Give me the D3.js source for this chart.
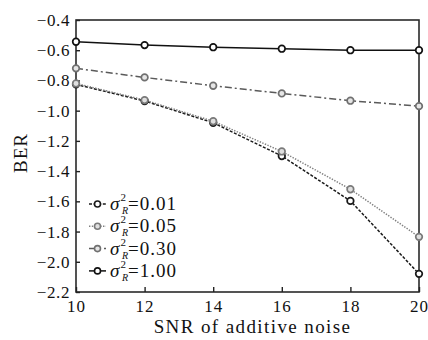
<!DOCTYPE html>
<html>
<head>
<meta charset="utf-8">
<script src="https://cdn.jsdelivr.net/npm/d3@7"></script>
<style>
  body { margin: 0; background: #fff; }
  svg text { font-family: "Liberation Serif", "DejaVu Serif", serif !important; fill: #111; }
</style>
</head>
<body>
<svg id="chart" width="428" height="340"></svg>
<script>
// data
var snr = [10, 12, 14, 16, 18, 20];
var ber001 = [-0.826, -0.936, -1.08, -1.30, -1.597, -2.08];
var ber005 = [-0.82, -0.93, -1.07, -1.27, -1.52, -1.835];
var ber030 = [-0.72, -0.78, -0.835, -0.886, -0.934, -0.97];
var ber100 = [-0.544, -0.566, -0.58, -0.59, -0.60, -0.60];
var labels = ["0.01", "0.05", "0.30", "1.00"];
var xTicks = [10, 12, 14, 16, 18, 20];
var yTicks = [-0.4, -0.6, -0.8, -1.0, -1.2, -1.4, -1.6, -1.8, -2.0, -2.2];

var series = [
  { name: labels[0], values: ber001, stroke: "#1a1a1a", dash: "3,1.6", mark: "#1a1a1a", fill: "#fff" },
  { name: labels[1], values: ber005, stroke: "#808080", dash: "1.4,1.4", mark: "#7a7a7a", fill: "#e0e0e0" },
  { name: labels[2], values: ber030, stroke: "#5a5a5a", dash: "7,3,2,3", mark: "#707070", fill: "#e6e6e6" },
  { name: labels[3], values: ber100, stroke: "#111", dash: null, mark: "#111", fill: "#fff" }
];

var svg = d3.select("#chart");
var pLeft = 76, pRight = 419, pTop = 20, pBottom = 292;

var x = d3.scaleLinear().domain([10, 20]).range([pLeft, pRight]);
var y = d3.scaleLinear().domain([-2.2, -0.4]).range([pBottom, pTop]);

// frame
svg.append("rect").attr("x", pLeft).attr("y", pTop)
  .attr("width", pRight - pLeft).attr("height", pBottom - pTop)
  .attr("fill", "none").attr("stroke", "#2a2a2a").attr("stroke-width", 1.6);

// x axis
var xAxis = d3.axisBottom(x).tickValues(xTicks).tickSize(-5).tickPadding(8).tickFormat(d3.format("d"));
var gx = svg.append("g").attr("transform", "translate(0," + pBottom + ")").call(xAxis);
gx.select(".domain").remove();
gx.selectAll("line").attr("stroke", "#222").attr("stroke-width", 1.4);
gx.selectAll("text").style("font-size", "17px").style("letter-spacing", "1px");

// y axis
var yAxis = d3.axisLeft(y).tickValues(yTicks).tickSize(-4).tickPadding(6).tickFormat(d3.format(".1f"));
var gy = svg.append("g").attr("transform", "translate(" + pLeft + ",0)").call(yAxis);
gy.select(".domain").remove();
gy.selectAll("line").attr("stroke", "#222").attr("stroke-width", 1.4);
gy.selectAll("text").style("font-size", "17px").style("letter-spacing", "0.6px");

// axis titles
svg.append("text").attr("x", (pLeft + pRight) / 2 + 5).attr("y", 333)
  .attr("text-anchor", "middle").style("font-size", "19px").style("letter-spacing", "1.4px")
  .text("SNR of additive noise");
svg.append("text").attr("transform", "translate(27,153) rotate(-90)")
  .attr("text-anchor", "middle").style("font-size", "19px").style("letter-spacing", "1px")
  .text("BER");

var line = d3.line().x(function(d, i) { return x(snr[i]); }).y(function(d) { return y(d); });

series.forEach(function(s) {
  svg.append("path").datum(s.values).attr("d", line)
    .attr("fill", "none").attr("stroke", s.stroke).attr("stroke-width", 1.5)
    .attr("stroke-dasharray", s.dash);
  svg.selectAll(null).data(s.values).enter().append("circle")
    .attr("cx", function(d, i) { return x(snr[i]); })
    .attr("cy", function(d) { return y(d); })
    .attr("r", 3.3).attr("fill", s.fill).attr("stroke", s.mark).attr("stroke-width", 1.7);
});

// legend
var leg = svg.append("g");
series.forEach(function(s, i) {
  var ly = 204 + i * 22.3;
  leg.append("line").attr("x1", 89).attr("x2", 106).attr("y1", ly).attr("y2", ly)
    .attr("stroke", s.stroke).attr("stroke-width", 1.5).attr("stroke-dasharray", s.dash);
  leg.append("circle").attr("cx", 97.5).attr("cy", ly).attr("r", 3)
    .attr("fill", s.fill).attr("stroke", s.mark).attr("stroke-width", 1.6);
  var t = leg.append("text").attr("x", 110).attr("y", ly + 6).style("font-size", "19px");
  t.append("tspan").style("font-style", "italic").text("σ");
  t.append("tspan").style("font-size", "11px").attr("dy", -9).attr("dx", 1).text("2");
  t.append("tspan").style("font-size", "10px").style("font-style", "italic").attr("dy", 13).attr("dx", -4).text("R");
  t.append("tspan").attr("dy", -4).style("letter-spacing", "1px").text("=" + s.name);
});
</script>
</body>
</html>
